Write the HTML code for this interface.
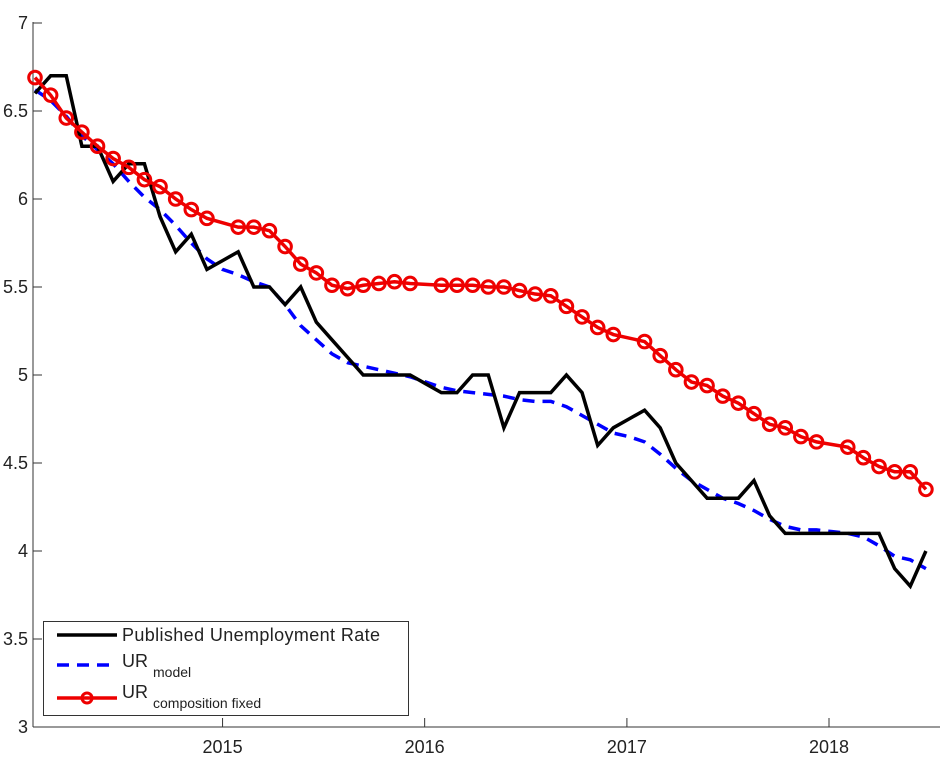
<!DOCTYPE html>
<html><head><meta charset="utf-8"><style>
body{margin:0;background:#fff}
svg text{font-family:"Liberation Sans Narrow","Liberation Sans",sans-serif;fill:#222}
</style></head><body>
<svg id="chart" width="942" height="757" viewBox="0 0 942 757" xmlns="http://www.w3.org/2000/svg">
<g id="axes"></g>
<g id="series"></g>
<g id="legend">
<rect x="43.5" y="621.5" width="365" height="94" fill="#fff" stroke="#333" stroke-width="1"/>
<g>
<line x1="57" y1="635" x2="117" y2="635" stroke="#000" stroke-width="3.5"/>
<text x="122" y="641" font-size="18" textLength="258">Published Unemployment Rate</text></g>
<g>
<line x1="57" y1="665" x2="117" y2="665" stroke="#0000ff" stroke-width="3.5" stroke-dasharray="12,8"/>
<text x="122" y="667" font-size="18">UR <tspan font-size="14" dy="10">model</tspan></text></g>
<g>
<line x1="57" y1="698" x2="117" y2="698" stroke="#ee0000" stroke-width="3.5"/>
<circle cx="87" cy="698" r="5" fill="none" stroke="#ee0000" stroke-width="3"/>
<text x="122" y="698" font-size="18">UR <tspan font-size="14" dy="10">composition fixed</tspan></text></g>
</g>
</svg>
<script>
const published=[6.6,6.7,6.7,6.3,6.3,6.1,6.2,6.2,5.9,5.7,5.8,5.6,5.65,5.7,5.5,5.5,5.4,5.5,5.3,5.2,5.1,5.0,5.0,5.0,5.0,4.95,4.9,4.9,5.0,5.0,4.7,4.9,4.9,4.9,5.0,4.9,4.6,4.7,4.75,4.8,4.7,4.5,4.4,4.3,4.3,4.3,4.4,4.2,4.1,4.1,4.1,4.1,4.1,4.1,4.1,3.9,3.8,4.0];
const model=[6.62,6.56,6.47,6.36,6.28,6.2,6.1,6.01,5.94,5.85,5.75,5.66,5.6,5.57,5.53,5.5,5.4,5.28,5.2,5.12,5.07,5.05,5.03,5.01,4.99,4.96,4.93,4.91,4.9,4.89,4.88,4.86,4.85,4.85,4.82,4.77,4.72,4.67,4.65,4.62,4.55,4.47,4.4,4.35,4.3,4.27,4.23,4.18,4.14,4.12,4.12,4.11,4.1,4.08,4.03,3.97,3.95,3.9];
const fixedComp=[6.69,6.59,6.46,6.38,6.3,6.23,6.18,6.11,6.07,6.0,5.94,5.89,null,5.84,5.84,5.82,5.73,5.63,5.58,5.51,5.49,5.51,5.52,5.53,5.52,null,5.51,5.51,5.51,5.5,5.5,5.48,5.46,5.45,5.39,5.33,5.27,5.23,null,5.19,5.11,5.03,4.96,4.94,4.88,4.84,4.78,4.72,4.7,4.65,4.62,null,4.59,4.53,4.48,4.45,4.45,4.35];
const yTicks=[3,3.5,4,4.5,5,5.5,6,6.5,7];
const xTickLabels=["2015","2016","2017","2018"];
const xTickIdx=[12,24.93,37.87,50.8];
const NS="http://www.w3.org/2000/svg";
const X=i=>35+i*15.63, Y=v=>727-(v-3)*176;
const ax=document.getElementById('axes'), se=document.getElementById('series');
function mk(tag,attrs,parent){const e=document.createElementNS(NS,tag);for(const k in attrs)e.setAttribute(k,attrs[k]);parent.appendChild(e);return e;}
let e=mk('line',{x1:33,y1:22,x2:33,y2:727,stroke:'#333','stroke-width':1},ax);


e=mk('line',{x1:33,y1:727,x2:940,y2:727,stroke:'#333','stroke-width':1},ax);


yTicks.forEach(v=>{
 const t=mk('line',{x1:33,y1:Y(v),x2:42,y2:Y(v),stroke:'#333'},ax);
 
 
 const l=mk('text',{x:28,y:Y(v)+6,'text-anchor':'end','font-size':18},ax);l.textContent=String(v);
 
 
});
xTickLabels.forEach((s,k)=>{
 const x=X(xTickIdx[k]);
 const t=mk('line',{x1:x,y1:727,x2:x,y2:718,stroke:'#333'},ax);
 
 
 const l=mk('text',{x:x,y:753,'text-anchor':'middle','font-size':18},ax);l.textContent=s;
 
 
});
function pts(arr){return arr.map((v,i)=>v==null?null:X(i)+','+Y(v)).filter(p=>p).join(' ');}
let p=mk('polyline',{points:pts(model),fill:'none',stroke:'#0000ff','stroke-width':3.5,'stroke-dasharray':'12,8'},se);


p=mk('polyline',{points:pts(published),fill:'none',stroke:'#000','stroke-width':3.5,'stroke-linejoin':'miter'},se);


p=mk('polyline',{points:pts(fixedComp),fill:'none',stroke:'#ee0000','stroke-width':3.5},se);


fixedComp.forEach((v,i)=>{if(v==null)return;
 const c=mk('circle',{cx:X(i),cy:Y(v),r:6.3,fill:'none',stroke:'#ee0000','stroke-width':3},se);
 
 
});
</script>
</body></html>
